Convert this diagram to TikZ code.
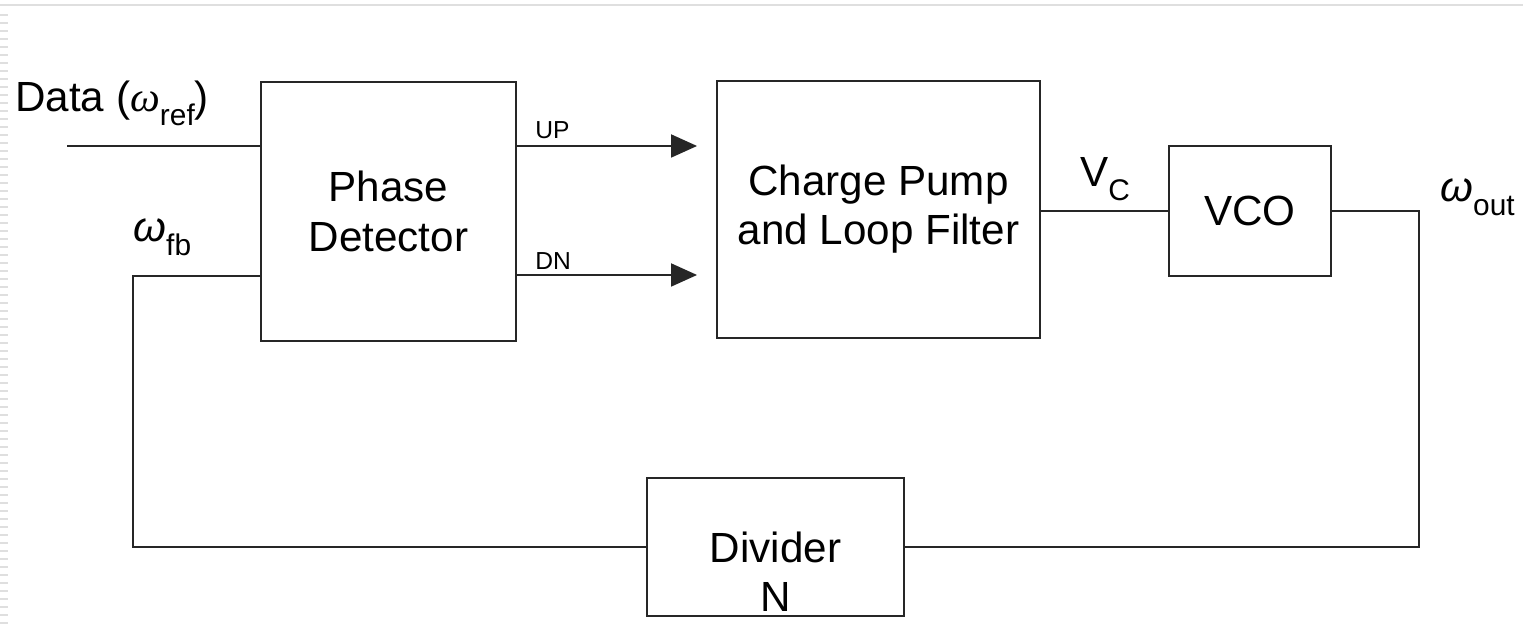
\documentclass[tikz,border=0pt]{standalone}
\usepackage{fontspec}
\setmainfont{Liberation Sans}
\newfontfamily\serifgreek{Liberation Serif}
\usetikzlibrary{positioning, arrows.meta, calc}

% lowered subscript in text size
\newcommand{\lsub}[1]{\raisebox{-7.5pt}{\fontsize{17}{17}\selectfont #1}}

\begin{document}
\begin{tikzpicture}[
  every node/.style={font=\fontsize{24}{28}\selectfont},
  blk/.style={draw=black!85, line width=1.1pt, align=center},
  lbl/.style={inner sep=0pt, anchor=base west},
  sig/.style={inner sep=0pt, anchor=base west, font=\fontsize{14}{16}\selectfont},
  wire/.style={line width=1.1pt, black!85},
  arr/.style={wire, -{Triangle[length=0.52cm, width=0.46cm]}, shorten >=0.38cm}
]
\useasboundingbox (0,0) rectangle (30.46,12.74);

% ---- screen edge (top rule and left ticks) ----
\draw[gray!25, line width=1pt] (0,12.64) -- (30.46,12.64);
\foreach \k in {0,...,76}
  \draw[gray!25, line width=0.8pt] (0,{12.44-0.16*\k}) -- (0.16,{12.44-0.16*\k});

% ---- Blocks ----
\node[blk, minimum width=5.1cm,  minimum height=5.18cm] (pd)  at (7.77, 8.51)  {Phase\\Detector};
\node[blk, minimum width=6.46cm, minimum height=5.14cm] (cp)  at (17.57, 8.55) {Charge Pump\\and Loop Filter};
\node[blk, minimum width=3.24cm, minimum height=2.6cm]  (vco) at (25.0, 8.52)  {VCO};
\node[blk, minimum width=5.14cm, minimum height=2.76cm] (div) at (15.51, 1.80) {};
\node[align=center, inner sep=0pt] (divtxt) at (15.51, 1.30) {Divider\\N};

% ---- Corner points ----
\coordinate (din)  at (1.34, 9.82);
\coordinate (fbin) at (2.66, 7.22);
\coordinate (rc)   at (28.38, 0);

% ---- Labels ----
\node[lbl] (ldata) at (0.3, 10.5)  {Data ({\serifgreek\itshape ω}\lsub{ref})};
\node[lbl] (lfb)   at (2.66, 7.9)  {{\itshape ω}\lsub{fb}};
\node[lbl] (lvc)   at (21.6, 9.0)  {V\lsub{C}};
\node[lbl] (lout)  at (28.8, 8.7)  {{\itshape ω}\lsub{out}};
\node[sig] (lup)   at (10.7, 9.96) {UP};
\node[sig] (ldn)   at (10.7, 7.34) {DN};

% ---- Wires ----
\draw[wire] (din) -- (din -| pd.west);
\draw[wire] (fbin -| pd.west) -- (fbin) |- (div.west);
\foreach \yy in {9.82, 7.24}
  \draw[arr] (pd.east |- 0,\yy) -- (cp.west |- 0,\yy);
\draw[wire] (cp.east |- vco.west) -- (vco.west);
\draw[wire] (vco.east) -| (rc |- div.east) -- (div.east);

\end{tikzpicture}
\end{document}
